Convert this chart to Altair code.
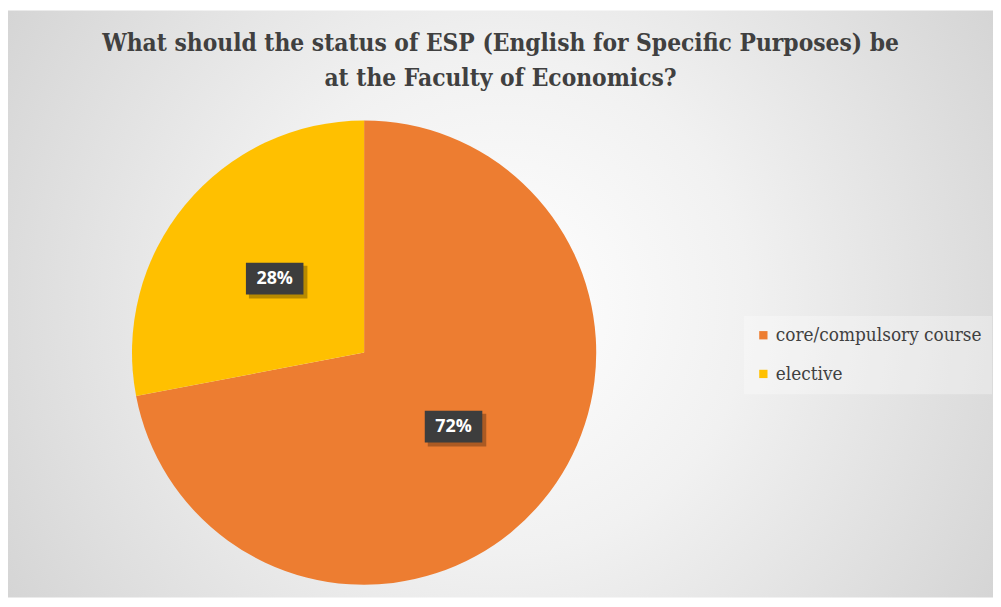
import altair as alt
import pandas as pd

categories = ["core/compulsory course", "elective"]
values = [72, 28]
labels = ["72%", "28%"]
colors = ["#ED7D31", "#FFC000"]
title_lines = ["What should the status of ESP (English for Specific Purposes) be",
               "at the Faculty of Economics?"]

SERIF = "DejaVu Serif Condensed"

W, H = 993, 592
CX, CY, R = 359, 345, 234
LR = 117

df = pd.DataFrame({"category": categories, "value": values,
                   "label": labels, "order": list(range(len(values)))})

bg = alt.Chart(pd.DataFrame({"a": [0]})).mark_rect(
    fill=alt.Gradient(gradient="radial",
                      stops=[alt.GradientStop(color="#ffffff", offset=0),
                             alt.GradientStop(color="#f1f1f1", offset=0.35),
                             alt.GradientStop(color="#c9c9c9", offset=1)],
                      x1=0.5, y1=0.5, r1=0, x2=0.5, y2=0.5, r2=0.72)
).encode(x=alt.value(0), x2=alt.value(W), y=alt.value(0), y2=alt.value(H))

arc = alt.Chart(df).mark_arc(outerRadius=R).encode(
    theta=alt.Theta("value:Q", stack=True),
    color=alt.Color("category:N",
                    scale=alt.Scale(domain=categories, range=colors),
                    legend=alt.Legend(title=None, orient="none",
                                      legendX=742, legendY=308,
                                      symbolType="square", symbolSize=70,
                                      symbolStrokeWidth=0,
                                      labelFont=SERIF,
                                      labelFontSize=19, labelColor="#404040",
                                      labelOffset=3, labelLimit=400,
                                      rowPadding=19, padding=10,
                                      fillColor="rgba(255,255,255,0.3)")),
    order=alt.Order("order:Q"),
    x=alt.value(CX), y=alt.value(CY),
)

pos = alt.Chart(df).transform_window(
    cum="sum(value)", sort=[alt.SortField("order")]
).transform_joinaggregate(total="sum(value)").transform_calculate(
    mid="(datum.cum - datum.value/2) / datum.total * 2 * PI",
    lx=f"{CX} + {LR} * sin(datum.mid)",
    ly=f"{CY} - {LR} * cos(datum.mid)",
    bx0="datum.lx - 29", bx1="datum.lx + 29",
    by0="datum.ly - 16", by1="datum.ly + 16",
    sx0="datum.lx - 26", sx1="datum.lx + 33",
    sy0="datum.ly - 13", sy1="datum.ly + 20",
)

shadow = pos.mark_rect(color="#000000", opacity=0.28).encode(
    x=alt.X("sx0:Q", scale=None), x2="sx1:Q",
    y=alt.Y("sy0:Q", scale=None), y2="sy1:Q")

box = pos.mark_rect(color="#3d3d3d").encode(
    x=alt.X("bx0:Q", scale=None), x2="bx1:Q",
    y=alt.Y("by0:Q", scale=None), y2="by1:Q")

txt = pos.mark_text(font="Open Sans", fontSize=18, fontWeight="bold",
                    color="#ffffff", baseline="middle", align="center").encode(
    x=alt.X("lx:Q", scale=None), y=alt.Y("ly:Q", scale=None), text="label:N")

chart = alt.layer(bg, arc, shadow, box, txt).properties(
    width=W, height=H,
    title=alt.Title(title_lines, font=SERIF, fontSize=24.5,
                    fontWeight="bold", color="#404040", anchor="middle",
                    baseline="top", lineHeight=36, offset=-82,
                    orient="top", frame="group"),
    autosize=alt.AutoSizeParams(type="none"),
    padding=0,
).configure_view(stroke=None).resolve_scale(x="independent", y="independent")

chart.save("out.html", embed_options={"renderer": "svg", "actions": False})
